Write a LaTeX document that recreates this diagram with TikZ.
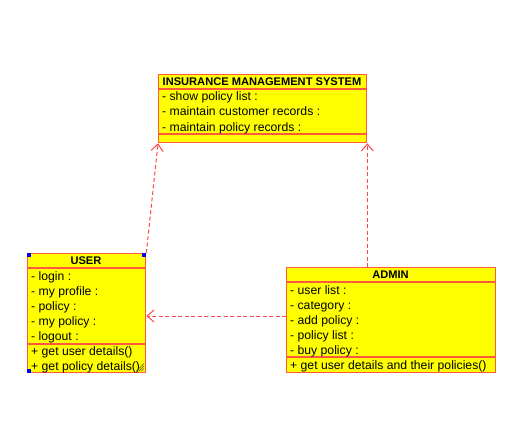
\documentclass[tikz,border=0pt]{standalone}
\usepackage{fontspec}
\setmainfont{Liberation Sans}
\usetikzlibrary{arrows.meta}
\definecolor{umlline}{RGB}{255,90,60}
\definecolor{umlfill}{RGB}{255,255,0}
\definecolor{deplink}{RGB}{255,70,70}
\tikzset{
  classbox/.style={draw=umlline,fill=umlfill,line width=1.3pt,anchor=north west,inner sep=0pt},
  sepline/.style={draw=umlline,line width=1.3pt},
  member/.style={anchor=west,inner sep=0pt,text height=10pt,text depth=2pt,font=\fontsize{12.2}{14}\selectfont},
  classname/.style={inner sep=0pt,text height=10pt,text depth=2pt,font=\bfseries\fontsize{11.1}{13}\selectfont},
  dep/.style={draw=deplink,line width=1pt,dash pattern=on 4pt off 2.5pt,-{Straight Barb[length=7pt,width=12pt]}},
  handle/.style={fill=blue,inner sep=0pt,minimum size=4pt}
}
\begin{document}
\begin{tikzpicture}[x=1pt,y=-1pt]
\useasboundingbox (0,0) rectangle (524,425);
% insurance management system
\node[classbox,minimum width=208pt,minimum height=68pt] (ims) at (158,74) {};
\draw[sepline] (158,89)--(366,89) (158,134)--(366,134);
\node[classname] (imsname) at (262,81.5) {INSURANCE MANAGEMENT SYSTEM};
\foreach \txt [count=\i] in {show policy list,maintain customer records,maintain policy records}
  \node[member] (imsattr\i) at (162,{82+15*\i}) {- \txt\ :};
% user
\node[classbox,minimum width=118pt,minimum height=119pt] (user) at (27,253) {};
\draw[sepline] (27,268)--(145,268) (27,344)--(145,344);
\node[classname] (username) at (86,260.5) {USER};
\foreach \txt [count=\i] in {login,my profile,policy,my policy,logout}
  \node[member] (userattr\i) at (31,{261+15*\i}) {- \txt\ :};
\node[member] (userop1) at (31,351) {+ get user details()};
\node[member] (userop2) at (31,366) {+ get policy details()};
\node[handle,anchor=north west] (h1) at (user.north west) {};
\node[handle,anchor=north east] (h2) at (user.north east) {};
\node[handle,anchor=south west] (h3) at (user.south west) {};
\draw[black!70!umlfill,line width=0.6pt] (139,371)--(144,366) (141.5,371)--(144,368.5) (136.5,371)--(144,363.5);
% admin
\node[classbox,minimum width=209pt,minimum height=105pt] (admin) at (286,267) {};
\draw[sepline] (286,282)--(495,282) (286,357)--(495,357);
\node[classname] (adminname) at (390.5,274.5) {ADMIN};
\foreach \txt [count=\i] in {user list,category,add policy,policy list,buy policy}
  \node[member] (adminattr\i) at (290,{275+15*\i}) {- \txt\ :};
\node[member] (adminop1) at (290,365) {+ get user details and their policies()};
% dependencies
\coordinate (midrow) at (0,316);
\draw[dep] (user.north east) -- (ims.south west);
\draw[dep] (admin.north -| ims.south east) -- (ims.south east);
\draw[dep] (admin.west |- midrow) -- (user.east |- midrow);
\end{tikzpicture}
\end{document}
